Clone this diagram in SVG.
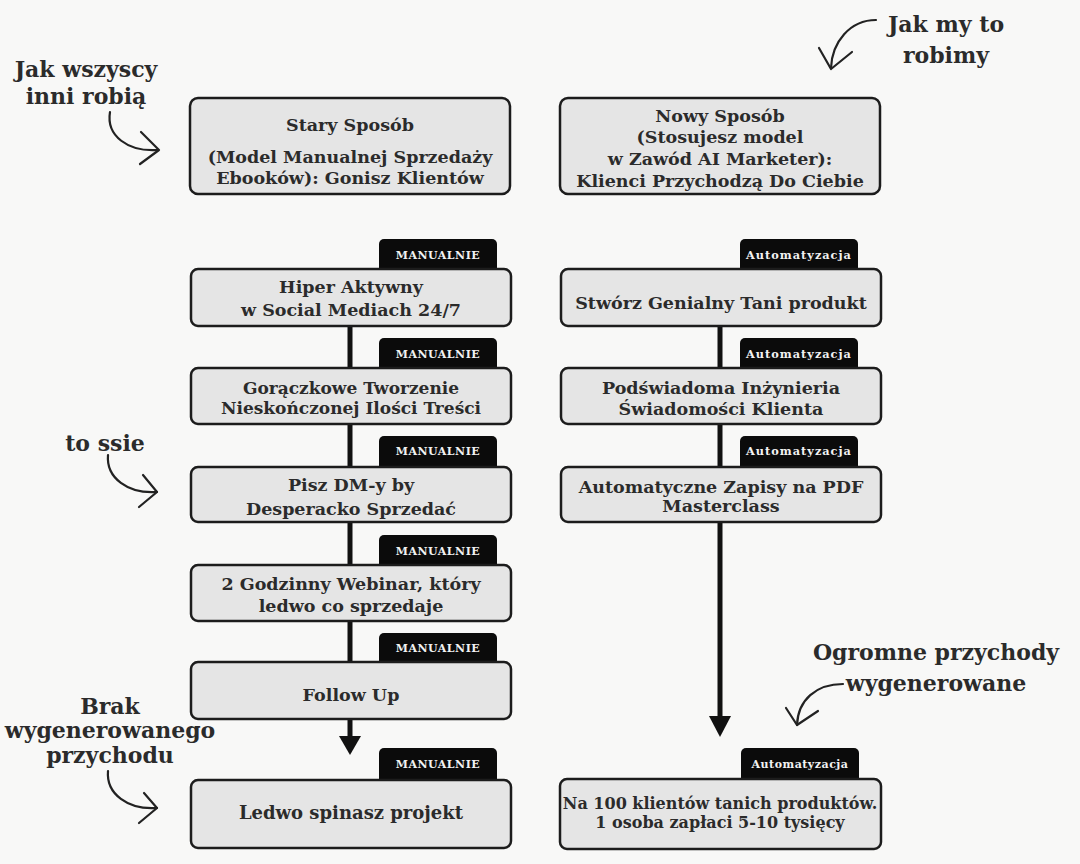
<svg xmlns="http://www.w3.org/2000/svg" width="1080" height="864" viewBox="0 0 1080 864">
<style>
.bg{fill:#f8f8f7}
.box{fill:#e5e5e5;stroke:#1c1c1c;stroke-width:2.5}
.tag{fill:#0b0b0b}
.t{font-family:"DejaVu Serif",serif;font-weight:bold;font-size:17.5px;fill:#2b2b2b;text-anchor:middle}
.tg{font-family:"DejaVu Serif",serif;font-weight:bold;font-size:11px;fill:#f2f2f2;text-anchor:middle;letter-spacing:0.5px}
.tga{letter-spacing:1px;font-size:11.3px}
.ann{font-family:"DejaVu Serif",serif;font-weight:bold;font-size:22px;fill:#2b2b2b;text-anchor:middle}
.con{stroke:#111;stroke-width:5;fill:none}
.head{fill:#111}
.ar{stroke:#222;stroke-width:2.2;fill:none;stroke-linecap:round;stroke-linejoin:round}
</style>
<rect class="bg" x="0" y="0" width="1080" height="864"/>

<g id="connectors">
<line class="con" x1="350" y1="326" x2="350" y2="368"/>
<line class="con" x1="350" y1="424" x2="350" y2="467"/>
<line class="con" x1="350" y1="522" x2="350" y2="565"/>
<line class="con" x1="350" y1="621" x2="350" y2="662"/>
<line class="con" x1="350" y1="719" x2="350" y2="738"/>
<polygon class="head" points="339,736 361,736 350,755"/>
<line class="con" x1="720" y1="326" x2="720" y2="368"/>
<line class="con" x1="720" y1="424" x2="720" y2="467"/>
<line class="con" x1="720" y1="522" x2="720" y2="719"/>
<polygon class="head" points="709,716 731,716 720,737"/>
</g>

<g id="old-way">
<rect class="box" x="190" y="98" width="320" height="96" rx="8"/>
<text class="t" x="350" y="131">Stary Sposób</text>
<text class="t" x="350" y="163">(Model Manualnej Sprzedaży</text>
<text class="t" x="350" y="184">Ebooków): Gonisz Klientów</text>
</g>

<g id="new-way">
<rect class="box" x="560" y="98" width="320" height="96" rx="8"/>
<text class="t" x="720" y="122">Nowy Sposób</text>
<text class="t" x="720" y="143">(Stosujesz model</text>
<text class="t" x="720" y="165">w Zawód AI Marketer):</text>
<text class="t" x="720" y="187">Klienci Przychodzą Do Ciebie</text>
</g>

<g id="m1">
<rect class="tag" x="379" y="239" width="118" height="40" rx="5"/>
<text class="tg" x="438" y="259">MANUALNIE</text>
<rect class="box" x="191" y="269" width="320" height="57" rx="7"/>
<text class="t" x="351" y="293">Hiper Aktywny</text>
<text class="t" x="351" y="316">w Social Mediach 24/7</text>
</g>

<g id="m2">
<rect class="tag" x="379" y="338" width="118" height="40" rx="5"/>
<text class="tg" x="438" y="358">MANUALNIE</text>
<rect class="box" x="191" y="368" width="320" height="56" rx="7"/>
<text class="t" x="351" y="394" style="font-size:17px">Gorączkowe Tworzenie</text>
<text class="t" x="351" y="414" style="font-size:17px">Nieskończonej Ilości Treści</text>
</g>

<g id="m3">
<rect class="tag" x="379" y="436" width="118" height="40" rx="5"/>
<text class="tg" x="438" y="455">MANUALNIE</text>
<rect class="box" x="191" y="467" width="320" height="55" rx="7"/>
<text class="t" x="351" y="491">Pisz DM-y by</text>
<text class="t" x="351" y="515">Desperacko Sprzedać</text>
</g>

<g id="m4">
<rect class="tag" x="379" y="535" width="118" height="40" rx="5"/>
<text class="tg" x="438" y="555">MANUALNIE</text>
<rect class="box" x="191" y="565" width="320" height="56" rx="7"/>
<text class="t" x="351" y="590">2 Godzinny Webinar, który</text>
<text class="t" x="351" y="612">ledwo co sprzedaje</text>
</g>

<g id="m5">
<rect class="tag" x="379" y="633" width="118" height="40" rx="5"/>
<text class="tg" x="438" y="652">MANUALNIE</text>
<rect class="box" x="191" y="662" width="320" height="57" rx="7"/>
<text class="t" x="351" y="701">Follow Up</text>
</g>

<g id="m6">
<rect class="tag" x="379" y="748" width="118" height="40" rx="5"/>
<text class="tg" x="438" y="768">MANUALNIE</text>
<rect class="box" x="191" y="780" width="320" height="68" rx="7"/>
<text class="t" x="351" y="819" style="font-size:18px">Ledwo spinasz projekt</text>
</g>

<g id="a1">
<rect class="tag" x="740" y="239" width="118" height="40" rx="5"/>
<text class="tg tga" x="799" y="259">Automatyzacja</text>
<rect class="box" x="561" y="269" width="320" height="57" rx="7"/>
<text class="t" x="721" y="309">Stwórz Genialny Tani produkt</text>
</g>

<g id="a2">
<rect class="tag" x="740" y="338" width="118" height="40" rx="5"/>
<text class="tg tga" x="799" y="358">Automatyzacja</text>
<rect class="box" x="561" y="368" width="320" height="56" rx="7"/>
<text class="t" x="721" y="394">Podświadoma Inżynieria</text>
<text class="t" x="721" y="415">Świadomości Klienta</text>
</g>

<g id="a3">
<rect class="tag" x="740" y="436" width="118" height="40" rx="5"/>
<text class="tg tga" x="799" y="455">Automatyzacja</text>
<rect class="box" x="561" y="467" width="320" height="55" rx="7"/>
<text class="t" x="721" y="493">Automatyczne Zapisy na PDF</text>
<text class="t" x="721" y="512">Masterclass</text>
</g>

<g id="a4">
<rect class="tag" x="741" y="748" width="118" height="40" rx="5"/>
<text class="tg" x="800" y="768">Automatyzacja</text>
<rect class="box" x="560" y="779" width="321" height="70" rx="7"/>
<text class="t" x="720" y="809" style="font-size:16px">Na 100 klientów tanich produktów.</text>
<text class="t" x="720" y="828" style="font-size:16px">1 osoba zapłaci 5-10 tysięcy</text>
</g>

<g id="annotations">
<text class="ann" x="86" y="77">Jak wszyscy</text>
<text class="ann" x="86" y="104">inni robią</text>
<path class="ar" d="M110,112 C106,136 128,152 158,150"/>
<path class="ar" d="M141,132 L159,150 L140,164"/>

<text class="ann" x="946" y="32">Jak my to</text>
<text class="ann" x="946" y="63">robimy</text>
<path class="ar" d="M876,20 C850,20 832,42 831,68"/>
<path class="ar" d="M819,48 L831,69 L852,52"/>

<text class="ann" x="105" y="451">to ssie</text>
<path class="ar" d="M108,455 C106,478 128,494 157,492"/>
<path class="ar" d="M143,475 L157,492 L139,507"/>

<text class="ann" x="110" y="714">Brak</text>
<text class="ann" x="110" y="738">wygenerowanego</text>
<text class="ann" x="110" y="763">przychodu</text>
<path class="ar" d="M108,771 C106,794 128,810 157,808"/>
<path class="ar" d="M144,793 L157,808 L139,823"/>

<text class="ann" x="936" y="660">Ogromne przychody</text>
<text class="ann" x="936" y="691">wygenerowane</text>
<path class="ar" d="M843,684 C816,684 798,700 797,725"/>
<path class="ar" d="M786,708 L797,725 L818,711"/>
</g>
</svg>
